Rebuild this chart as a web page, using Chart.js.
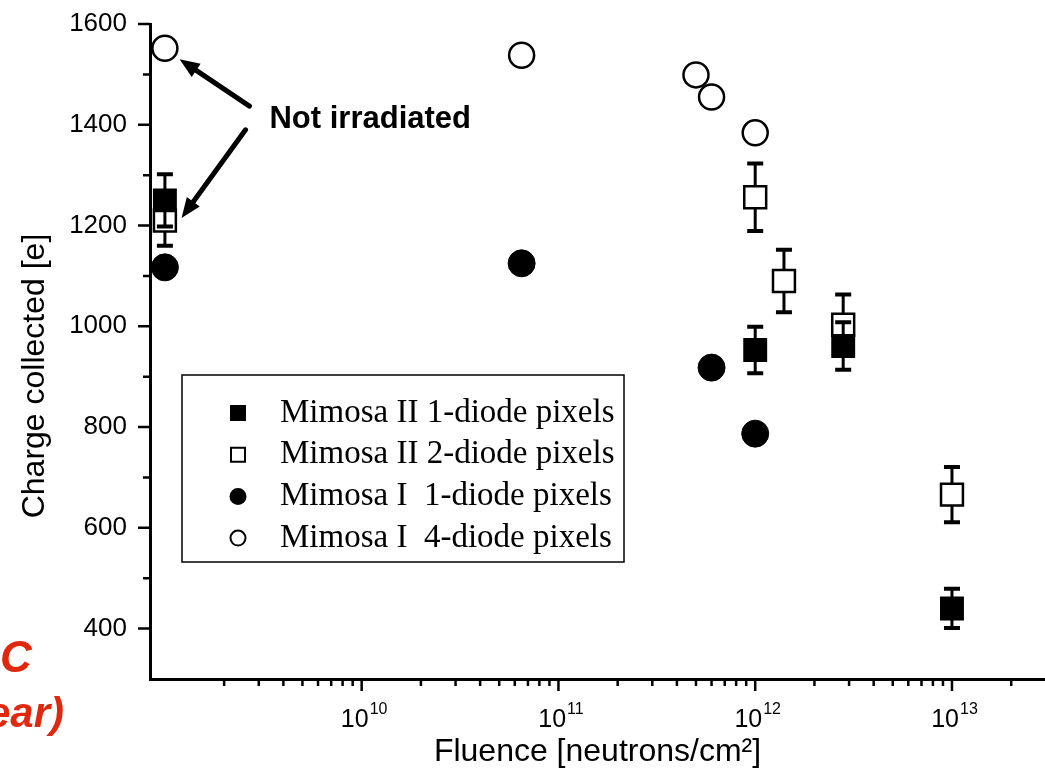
<!DOCTYPE html>
<html>
<head>
<meta charset="utf-8">
<script src="https://cdn.jsdelivr.net/npm/chart.js@4.4.0/dist/chart.umd.min.js"></script>
<style>
  html, body { margin: 0; padding: 0; background: #fff; }
  #wrap { width: 1045px; height: 774px; }
</style>
</head>
<body>
<div id="wrap"><canvas id="chargeChart" width="1045" height="774"></canvas></div>
<script>
// values (fluence in neutrons/cm2, charge in electrons)
const m2OneFluence = [1e9, 1e12, 2.8e12, 1e13];
const m2OneCharge = [1250, 953, 961, 440];
const m2OneError = [52, 46, 47, 39];

const m2TwoFluence = [1e9, 1e12, 1.4e12, 2.8e12, 1e13];
const m2TwoCharge = [1210, 1256, 1090, 1003, 666];
const m2TwoError = [50, 67, 62, 60, 55];

const m1OneFluence = [1e9, 6.5e10, 6e11, 1e12];
const m1OneCharge = [1117, 1125, 918, 787];

const m1FourFluence = [1e9, 6.5e10, 5e11, 6e11, 1e12];
const m1FourCharge = [1552, 1538, 1499, 1455, 1384];

const seriesLabels = ['Mimosa II 1-diode pixels', 'Mimosa II 2-diode pixels', 'Mimosa I  1-diode pixels', 'Mimosa I  4-diode pixels'];
const xTickValues = [1e10, 1e11, 1e12, 1e13];
const xTickExponents = ['10', '11', '12', '13'];
const yTickValues = [400, 600, 800, 1000, 1200, 1400, 1600];

const sans = '"Liberation Sans", Arial, sans-serif';
const serif = '"Liberation Serif", "Times New Roman", serif';

function zip(xs, ys) {
    return xs.map((x, i) => ({ x: x, y: ys[i] }));
}

function noPadding(s) {
    s.paddingLeft = 0; s.paddingRight = 0;
    s.paddingTop = 0; s.paddingBottom = 0;
}

// error bars, drawn just before the markers of their own dataset
const errorBars = {
    id: 'errorBars',
    beforeDatasetDraw(chart, args) {
        const ds = chart.data.datasets[args.index];
        if (!ds.errors) return;
        const ctx = chart.ctx;
        const xs = chart.scales.x, ys = chart.scales.y;
        ctx.save();
        ctx.strokeStyle = '#000';
        ds.data.forEach((p, i) => {
            const px = xs.getPixelForValue(p.x);
            const top = ys.getPixelForValue(p.y + ds.errors[i]);
            const bot = ys.getPixelForValue(p.y - ds.errors[i]);
            ctx.lineWidth = 3;
            ctx.beginPath();
            ctx.moveTo(px, top);
            ctx.lineTo(px, bot);
            ctx.stroke();
            ctx.lineWidth = 4;
            ctx.beginPath();
            ctx.moveTo(px - 8, top); ctx.lineTo(px + 8, top);
            ctx.moveTo(px - 8, bot); ctx.lineTo(px + 8, bot);
            ctx.stroke();
        });
        ctx.restore();
    }
};

// major / minor tick marks and the 10^n labels of the log axis
const tickMarks = {
    id: 'tickMarks',
    afterDraw(chart) {
        const ctx = chart.ctx;
        const xs = chart.scales.x, ys = chart.scales.y;
        const area = chart.chartArea;
        ctx.save();
        ctx.strokeStyle = '#000';
        ctx.lineWidth = 2.5;
        ctx.beginPath();
        for (let v = 400; v <= 1600; v += 200) {
            const py = ys.getPixelForValue(v);
            ctx.moveTo(area.left, py); ctx.lineTo(area.left - 12, py);
        }
        for (let v = 500; v <= 1500; v += 200) {
            const py = ys.getPixelForValue(v);
            ctx.moveTo(area.left, py); ctx.lineTo(area.left - 7, py);
        }
        for (let e = 9; e <= 13; e++) {
            for (let k = 1; k <= 9; k++) {
                const v = k * Math.pow(10, e);
                if (v < 2e9 || v > xs.max) continue;
                const px = xs.getPixelForValue(v);
                ctx.moveTo(px, area.bottom);
                ctx.lineTo(px, area.bottom + (k === 1 ? 12 : 7));
            }
        }
        ctx.stroke();

        ctx.fillStyle = '#000';
        ctx.textBaseline = 'alphabetic';
        xTickValues.forEach((v, i) => {
            const px = xs.getPixelForValue(v);
            ctx.font = '25px ' + sans;
            const bw = ctx.measureText('10').width;
            ctx.font = '16px ' + sans;
            const ew = ctx.measureText(xTickExponents[i]).width;
            const left = px - (bw + ew) / 2 + 2;
            ctx.font = '25px ' + sans;
            ctx.textAlign = 'left';
            ctx.fillText('10', left, 727);
            ctx.font = '16px ' + sans;
            ctx.fillText(xTickExponents[i], left + bw + 1, 714);
        });
        ctx.restore();
    }
};

// y title, "Not irradiated" note with arrows, legend box and the clipped red slide text
const extras = {
    id: 'extras',
    afterDraw(chart) {
        const ctx = chart.ctx;
        const xs = chart.scales.x, ys = chart.scales.y;
        const pt = (x, y) => [xs.getPixelForValue(x), ys.getPixelForValue(y)];
        ctx.save();

        ctx.fillStyle = '#000';
        ctx.save();
        ctx.translate(35, 376);
        ctx.rotate(-Math.PI / 2);
        ctx.font = '32px ' + sans;
        ctx.textAlign = 'center';
        ctx.textBaseline = 'middle';
        ctx.fillText('Charge collected [e]', 0, 0);
        ctx.restore();

        // note
        const [tx, ty] = pt(3.4e9, 1410);
        ctx.font = 'bold 31px ' + sans;
        ctx.textAlign = 'left';
        ctx.textBaseline = 'middle';
        ctx.fillText('Not irradiated', tx, ty);

        const arrow = (from, to) => {
            const [x1, y1] = pt(from[0], from[1]);
            const [x2, y2] = pt(to[0], to[1]);
            const a = Math.atan2(y2 - y1, x2 - x1);
            const hl = 20, hw = 8;
            const bx = x2 - hl * Math.cos(a), by = y2 - hl * Math.sin(a);
            ctx.strokeStyle = '#000';
            ctx.lineWidth = 5;
            ctx.lineCap = 'round';
            ctx.beginPath();
            ctx.moveTo(x1, y1);
            ctx.lineTo(bx, by);
            ctx.stroke();
            ctx.beginPath();
            ctx.moveTo(x2, y2);
            ctx.lineTo(bx + hw * Math.sin(a), by - hw * Math.cos(a));
            ctx.lineTo(bx - hw * Math.sin(a), by + hw * Math.cos(a));
            ctx.closePath();
            ctx.fill();
        };
        arrow([2.69e9, 1437], [1.187e9, 1530]);
        arrow([2.57e9, 1390], [1.215e9, 1215]);

        // legend
        const lx = 182, ly = 375, lw = 442, lh = 187;
        ctx.fillStyle = '#fff';
        ctx.fillRect(lx, ly, lw, lh);
        ctx.strokeStyle = '#000';
        ctx.lineWidth = 1.5;
        ctx.strokeRect(lx, ly, lw, lh);
        ctx.font = '33px ' + serif;
        ctx.textBaseline = 'middle';
        chart.data.datasets.forEach((ds, i) => {
            const cy = ly + 38 + i * 41.7;
            const cx = lx + 56;
            ctx.fillStyle = ds.backgroundColor;
            ctx.strokeStyle = '#000';
            ctx.lineWidth = 2;
            ctx.beginPath();
            if (ds.pointStyle === 'rect') {
                ctx.rect(cx - 7, cy - 7, 14, 14);
            } else {
                ctx.arc(cx, cy, 7.5, 0, Math.PI * 2);
            }
            ctx.fill();
            ctx.stroke();
            ctx.fillStyle = '#000';
            ctx.fillText(ds.label, lx + 98, cy);
        });

        // clipped red text from the slide
        ctx.fillStyle = '#e0280e';
        ctx.font = 'italic bold 44px ' + sans;
        ctx.textAlign = 'left';
        ctx.textBaseline = 'alphabetic';
        ctx.fillText('C', 0, 672);
        ctx.font = 'italic bold 42px ' + sans;
        ctx.textAlign = 'right';
        ctx.fillText('ear)', 64, 727);

        ctx.restore();
    }
};

const chart = new Chart(document.getElementById('chargeChart'), {
    type: 'scatter',
    data: {
        datasets: [{
            label: seriesLabels[0],
            data: zip(m2OneFluence, m2OneCharge),
            errors: m2OneError,
            pointStyle: 'rect',
            pointRadius: 15.5,
            backgroundColor: '#000',
            borderColor: '#000',
            borderWidth: 2,
            order: 2
        }, {
            label: seriesLabels[1],
            data: zip(m2TwoFluence, m2TwoCharge),
            errors: m2TwoError,
            pointStyle: 'rect',
            pointRadius: 15.5,
            backgroundColor: '#fff',
            borderColor: '#000',
            borderWidth: 2.5,
            order: 3
        }, {
            label: seriesLabels[2],
            data: zip(m1OneFluence, m1OneCharge),
            pointStyle: 'circle',
            pointRadius: 13.5,
            backgroundColor: '#000',
            borderColor: '#000',
            borderWidth: 1,
            order: 1
        }, {
            label: seriesLabels[3],
            data: zip(m1FourFluence, m1FourCharge),
            pointStyle: 'circle',
            pointRadius: 12.5,
            backgroundColor: '#fff',
            borderColor: '#000',
            borderWidth: 2.5,
            order: 4
        }]
    },
    options: {
        responsive: false,
        animation: false,
        events: [],
        layout: { autoPadding: false, padding: { top: 24, right: 0, bottom: 0, left: 0 } },
        plugins: {
            legend: { display: false },
            tooltip: { enabled: false }
        },
        scales: {
            x: {
                type: 'logarithmic',
                min: 8.4e8,
                max: 2.97e13,
                afterBuildTicks: s => { s.ticks = xTickValues.map(v => ({ value: v })); },
                afterFit: s => { s.height = 95; noPadding(s); },
                border: { display: true, color: '#000', width: 3 },
                grid: { display: true, drawOnChartArea: false, drawTicks: false },
                ticks: { display: false },
                title: {
                    display: true,
                    text: 'Fluence [neutrons/cm\u00b2]',
                    color: '#000',
                    font: { family: sans, size: 32 },
                    padding: { top: 0, bottom: 3 }
                }
            },
            y: {
                min: 300,
                max: 1600,
                afterBuildTicks: s => { s.ticks = yTickValues.map(v => ({ value: v })); },
                afterFit: s => { s.width = 150; noPadding(s); },
                border: { display: true, color: '#000', width: 3 },
                grid: { display: true, drawOnChartArea: false, drawTicks: false },
                ticks: {
                    padding: 23,
                    color: '#000',
                    font: { family: sans, size: 26 },
                    callback: v => String(v)
                }
            }
        }
    },
    plugins: [errorBars, tickMarks, extras]
});
</script>
</body>
</html>
